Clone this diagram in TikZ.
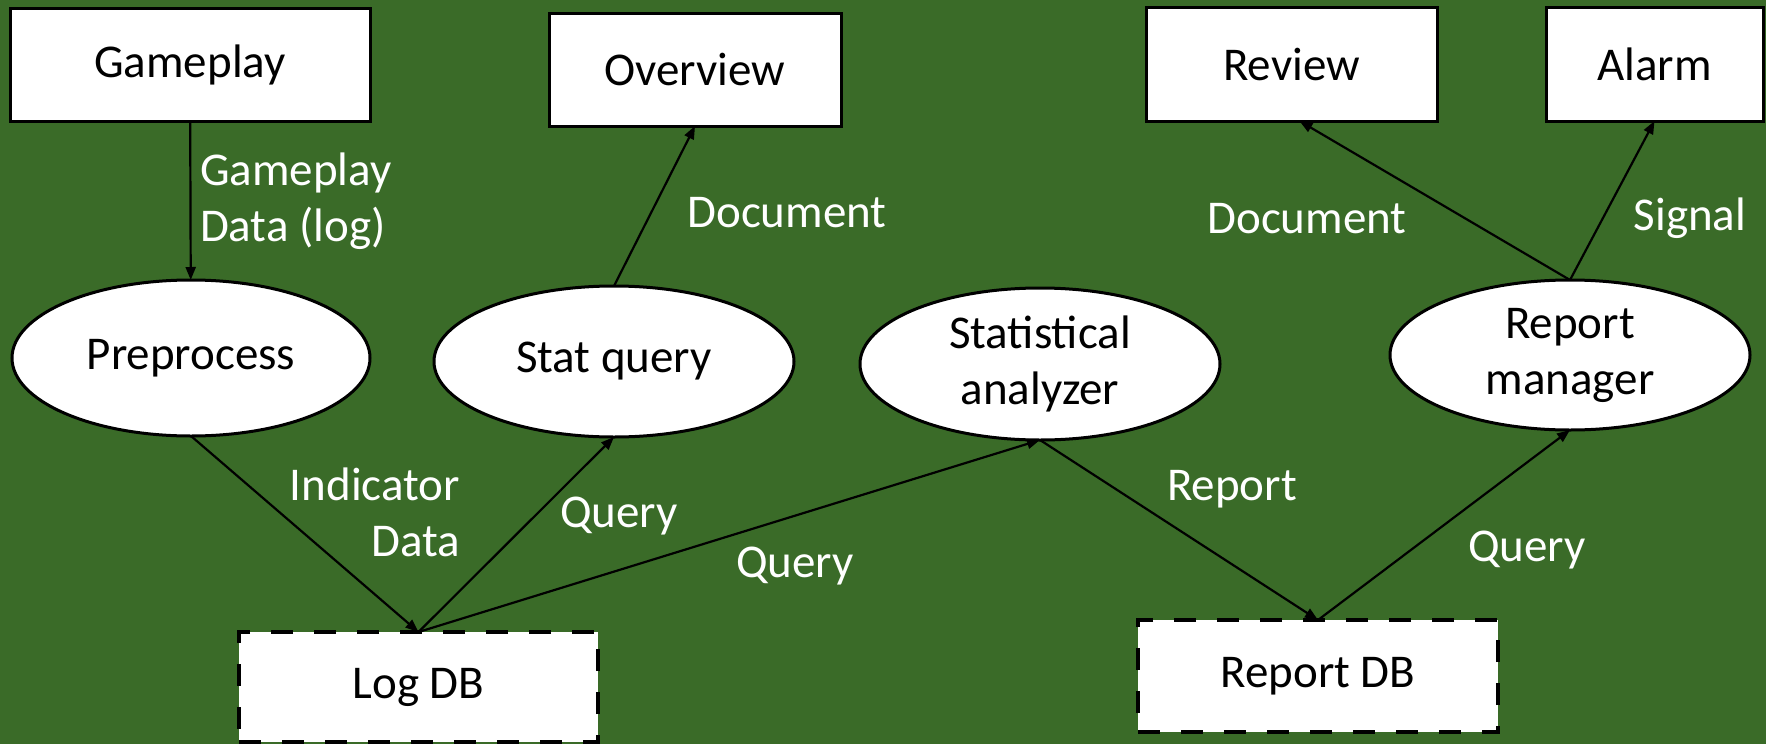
\documentclass[tikz,border=0pt]{standalone}
\usepackage{fontspec}
\setmainfont{Carlito}
\usetikzlibrary{shapes.geometric,arrows.meta}
\definecolor{bg}{RGB}{58,107,40}
\begin{document}
\begin{tikzpicture}[x=0.5pt,y=-0.5pt,
  every node/.style={font=\fontsize{23.5}{28}\selectfont, inner sep=0pt, outer sep=0pt},
  box/.style={draw=black, fill=white, line width=1.5pt, rectangle},
  dbbox/.style={draw=black, fill=white, line width=2.25pt, dash pattern=on 11pt off 10.5pt, rectangle},
  proc/.style={draw=black, fill=white, ellipse, line width=1.5pt, align=center},
  flow/.style={line width=1.1pt, -{Triangle[length=6.5pt,width=5pt]}},
  lbl/.style={text=white}]
\fill[bg] (0,0) rectangle (1766,744);
\useasboundingbox (0,0) rectangle (1766,744);

% boxes
\node[box, minimum width=180pt, minimum height=56.5pt] (game) at (190,64.5) {Gameplay};
\node[box, minimum width=146pt, minimum height=56.5pt] (over) at (695,69.5) {Overview};
\node[box, minimum width=145.5pt, minimum height=57pt] (review) at (1291.5,64) {Review};
\node[box, minimum width=108.5pt, minimum height=57pt] (alarm) at (1654.5,64) {Alarm};

% processes
\node[proc, minimum width=179pt, minimum height=78pt] (pre) at (191,358) {Preprocess};
\node[proc, minimum width=180pt, minimum height=75.5pt] (stat) at (614,361.5) {Stat query};
\node[proc, minimum width=180pt, minimum height=76pt] (ana) at (1040,364) {Statistical\\analyzer};
\node[proc, minimum width=180pt, minimum height=75pt] (mgr) at (1570,355) {Report\\manager};

% databases
\node[dbbox, minimum width=179.5pt, minimum height=55pt] (logdb) at (418.5,687) {Log DB};
\node[dbbox, minimum width=180pt, minimum height=56pt] (repdb) at (1318,676) {Report DB};

% connectors
\draw[flow] (game) -- (pre);
\draw[flow] (pre.south) -- (logdb.north);
\draw[flow] (logdb.north) -- (stat.south);
\draw[flow] (logdb.north) -- (ana.south);
\draw[flow] (stat.north) -- (over.south);
\draw[flow] (ana.south) -- (repdb.north);
\draw[flow] (repdb.north) -- (mgr.south);
\draw[flow] (mgr.north) -- ([xshift=4pt]review.south);
\draw[flow] (mgr.north) -- (alarm.south);

% labels
\node[lbl, anchor=west, align=left] (l1) at (200,201) {Gameplay\\Data (log)};
\node[lbl, anchor=base] (l2) at (787,227) {Document};
\node[lbl, anchor=base] (l3) at (1307,233) {Document};
\node[lbl, anchor=base] (l4) at (1690,230) {Signal};
\node[lbl, anchor=east, align=right] (l5) at (460,512) {Indicator\\Data};
\node[lbl, anchor=base] (l6) at (619,527) {Query};
\node[lbl, anchor=base] (l7) at (795,577) {Query};
\node[lbl, anchor=base] (l8) at (1232,500) {Report};
\node[lbl, anchor=base] (l9) at (1527,561) {Query};
\end{tikzpicture}
\end{document}
